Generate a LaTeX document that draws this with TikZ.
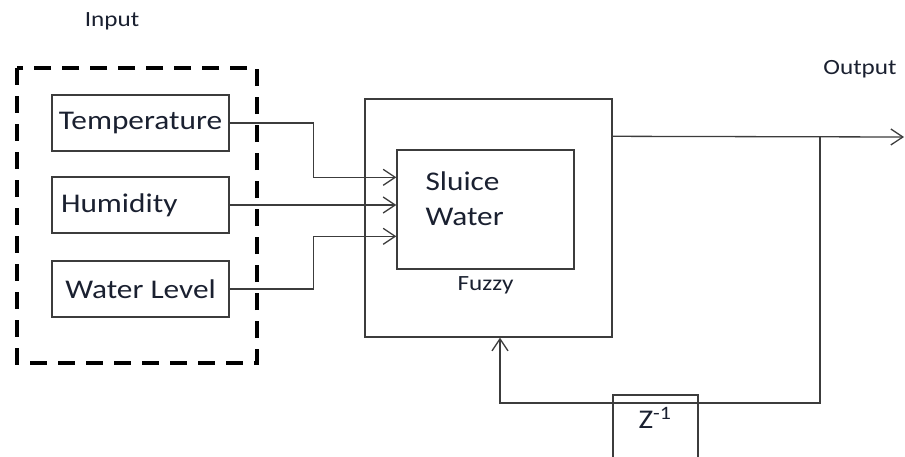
\documentclass[tikz,border=0pt]{standalone}
\usepackage{fontspec}
\setmainfont[FakeStretch=1.16]{Carlito}
\usetikzlibrary{arrows.meta,positioning,calc}
\definecolor{linegray}{HTML}{3C3C3C}
\definecolor{textdark}{HTML}{1A2030}
\tikzset{
  inbox/.style={draw=linegray, line width=1.4pt, minimum width=177pt, minimum height=56pt, inner xsep=4pt},
  plant/.style={draw=linegray, line width=1.4pt},
  smalltext/.style={font=\fontsize{21.7}{26}\selectfont},
  flow/.style={draw=linegray, line width=1.3pt, -{Straight Barb[length=12pt,width=16pt,line width=1.3pt]}},
  dashbox/.style={draw=black, line width=4pt, dash pattern=on 17pt off 11pt}
}
\begin{document}
\begin{tikzpicture}[x=1pt, y=-1pt, every node/.style={font=\fontsize{27}{35}\selectfont, text=textdark}]
  \useasboundingbox (0,0) rectangle (905,456);
  % input block
  \draw[dashbox] (17,68) rectangle (257,363);
  \node[smalltext] (inlabel) at (112,21) {Input};
  \node[inbox] (temp) at (140.5,123) {Temperature};
  \node[inbox, inner xsep=9pt, text width=159pt, align=left] (humid) at (140.5,205) {Humidity};
  \node[inbox] (level) at (140.5,289) {Water Level};
  % controller
  \node[plant, minimum width=247pt, minimum height=238pt] (fuzzy) at (488.5,218) {};
  \node[plant, minimum width=177pt, minimum height=119pt] (sluice) at (485.5,209.5) {};
  \node[align=left, anchor=west] (sluicetext) at (422,199) {Sluice\\Water};
  \node[smalltext] (fuzzylabel) at ([yshift=-16pt]sluice.south) {Fuzzy};
  \draw[flow] (temp.east) -- ++(84,0) |- ($(sluice.north west)+(0,28)$);
  \draw[flow] (humid.east) -- (humid.east -| sluice.west);
  \draw[flow] (level.east) -- ++(84,0) |- ($(sluice.north west)+(0,87)$);
  % output and feedback
  \coordinate (outstart) at ($(fuzzy.north east)+(0,38)$);
  \coordinate (tap) at (820,137);
  \coordinate (outend) at (904,137);
  \coordinate (fbturn) at (500,403);
  \node[smalltext] (outlabel) at (860,69) {Output};
  \draw[flow] (outstart) -- (outend);
  \node[plant, minimum width=85pt, minimum height=63pt] (delay) at (655.5,426.5) {};
  \node (delaytext) at (655,418) {Z\textsuperscript{-1}};
  \draw[flow] (tap) |- (fbturn) -- (fbturn |- fuzzy.south);
\end{tikzpicture}
\end{document}
